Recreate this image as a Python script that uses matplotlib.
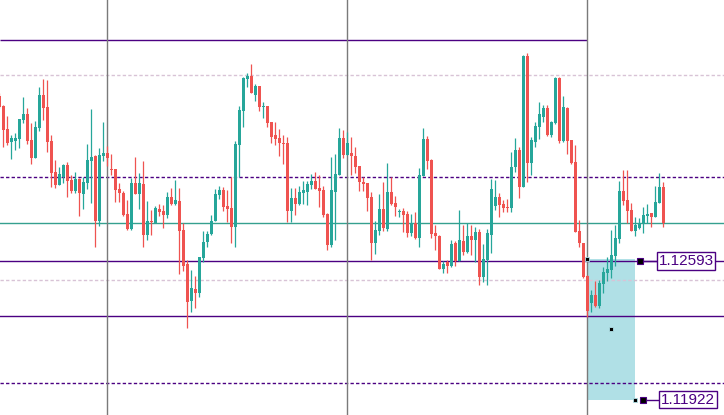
import matplotlib.pyplot as plt
from matplotlib.patches import Rectangle
import numpy as np

# OHLC, one candle per bar
opens = [1.13394, 1.13346, 1.13234, 1.13171, 1.13176, 1.13186, 1.13278, 1.13307, 1.13181, 1.13094,
         1.13239, 1.13399, 1.13341, 1.13176, 1.13026, 1.12963, 1.13002, 1.13060, 1.12987, 1.12934,
         1.12992, 1.12919, 1.12972, 1.13079, 1.13103, 1.12788, 1.13103, 1.13118, 1.13040, 1.13040,
         1.12943, 1.12924, 1.12822, 1.12749, 1.12972, 1.12919, 1.12968, 1.12720, 1.12788, 1.12778,
         1.12846, 1.12837, 1.12817, 1.12905, 1.12871, 1.12885, 1.12744, 1.12580, 1.12400, 1.12458,
         1.12439, 1.12609, 1.12686, 1.12725, 1.12788, 1.12914, 1.12938, 1.12861, 1.12851, 1.12759,
         1.13157, 1.13322, 1.13477, 1.13491, 1.13399, 1.13443, 1.13341, 1.13346, 1.13268, 1.13205,
         1.13191, 1.13166, 1.13166, 1.12837, 1.12900, 1.12871, 1.12924, 1.12929, 1.12963, 1.12982,
         1.12948, 1.12938, 1.12822, 1.12672, 1.12929, 1.13011, 1.13191, 1.13108, 1.13118, 1.13103,
         1.13055, 1.12977, 1.12972, 1.12905, 1.12681, 1.12740, 1.12846, 1.12749, 1.12929, 1.12875,
         1.12832, 1.12837, 1.12822, 1.12730, 1.12778, 1.12706, 1.13006, 1.13186, 1.13084, 1.12730,
         1.12715, 1.12555, 1.12589, 1.12570, 1.12681, 1.12594, 1.12691, 1.12638, 1.12715, 1.12696,
         1.12735, 1.12517, 1.12599, 1.12720, 1.12861, 1.12905, 1.12871, 1.12856, 1.12851, 1.13050,
         1.13132, 1.12953, 1.13588, 1.13069, 1.13171, 1.13244, 1.13293, 1.13336, 1.13205, 1.13263,
         1.13482, 1.13176, 1.13336, 1.13181, 1.13074, 1.12740, 1.12681, 1.12521, 1.12390, 1.12429,
         1.12376, 1.12483, 1.12536, 1.12550, 1.12618, 1.12701, 1.12934, 1.12890, 1.12841, 1.12740,
         1.12754, 1.12778, 1.12812, 1.12827, 1.12808, 1.12875, 1.12953]
highs = [1.13409, 1.13351, 1.13297, 1.13205, 1.13215, 1.13283, 1.13390, 1.13336, 1.13263, 1.13273,
         1.13438, 1.13477, 1.13472, 1.13205, 1.13084, 1.13050, 1.13065, 1.13074, 1.13011, 1.13026,
         1.12997, 1.13002, 1.13162, 1.13331, 1.13108, 1.13142, 1.13268, 1.13152, 1.13113, 1.13040,
         1.12972, 1.12934, 1.12890, 1.12997, 1.13099, 1.13021, 1.13079, 1.12885, 1.12841, 1.12861,
         1.12871, 1.12866, 1.12929, 1.12948, 1.12987, 1.12948, 1.12778, 1.12599, 1.12550, 1.12521,
         1.12614, 1.12740, 1.12740, 1.12817, 1.12943, 1.12958, 1.12953, 1.12938, 1.13002, 1.13176,
         1.13346, 1.13487, 1.13506, 1.13550, 1.13453, 1.13443, 1.13365, 1.13346, 1.13268, 1.13268,
         1.13234, 1.13205, 1.13196, 1.12948, 1.12948, 1.12958, 1.12982, 1.12982, 1.13016, 1.13026,
         1.13011, 1.12958, 1.12827, 1.13099, 1.13113, 1.13239, 1.13230, 1.13220, 1.13196, 1.13147,
         1.13055, 1.13002, 1.12972, 1.12929, 1.12788, 1.12919, 1.12977, 1.13069, 1.13002, 1.12909,
         1.12846, 1.12851, 1.12837, 1.12822, 1.12832, 1.13045, 1.13239, 1.13200, 1.13089, 1.12769,
         1.12720, 1.12594, 1.12599, 1.12696, 1.12691, 1.12841, 1.12769, 1.12778, 1.12769, 1.12759,
         1.12749, 1.12677, 1.12749, 1.12992, 1.12987, 1.12924, 1.12890, 1.12895, 1.13123, 1.13191,
         1.13147, 1.13593, 1.13603, 1.13196, 1.13268, 1.13365, 1.13351, 1.13351, 1.13273, 1.13487,
         1.13487, 1.13394, 1.13341, 1.13181, 1.13157, 1.12793, 1.12681, 1.12526, 1.12453, 1.12497,
         1.12502, 1.12565, 1.12614, 1.12744, 1.12769, 1.12982, 1.13035, 1.13035, 1.12875, 1.12808,
         1.12803, 1.12856, 1.12871, 1.12827, 1.12958, 1.13021, 1.12977]
lows = [1.13336, 1.13147, 1.13157, 1.13089, 1.13132, 1.13142, 1.13263, 1.13162, 1.13065, 1.13094,
        1.13225, 1.13278, 1.13123, 1.12953, 1.12948, 1.12963, 1.12972, 1.12905, 1.12924, 1.12924,
        1.12812, 1.12846, 1.12943, 1.12875, 1.12662, 1.12764, 1.13079, 1.13055, 1.13011, 1.12880,
        1.12880, 1.12812, 1.12744, 1.12744, 1.12919, 1.12846, 1.12662, 1.12696, 1.12720, 1.12778,
        1.12812, 1.12754, 1.12803, 1.12866, 1.12866, 1.12531, 1.12546, 1.12269, 1.12347, 1.12366,
        1.12420, 1.12589, 1.12662, 1.12720, 1.12788, 1.12895, 1.12837, 1.12783, 1.12681, 1.12662,
        1.13002, 1.13244, 1.13438, 1.13409, 1.13370, 1.13322, 1.13288, 1.13244, 1.13166, 1.13157,
        1.13103, 1.13065, 1.12783, 1.12783, 1.12817, 1.12866, 1.12871, 1.12866, 1.12943, 1.12943,
        1.12856, 1.12808, 1.12647, 1.12662, 1.12696, 1.13011, 1.13094, 1.13108, 1.13011, 1.13021,
        1.12934, 1.12934, 1.12837, 1.12599, 1.12628, 1.12720, 1.12740, 1.12740, 1.12866, 1.12812,
        1.12808, 1.12735, 1.12711, 1.12715, 1.12701, 1.12662, 1.13006, 1.13040, 1.12706, 1.12647,
        1.12555, 1.12536, 1.12536, 1.12565, 1.12570, 1.12594, 1.12623, 1.12633, 1.12623, 1.12589,
        1.12478, 1.12492, 1.12478, 1.12633, 1.12841, 1.12808, 1.12832, 1.12832, 1.12832, 1.13026,
        1.12900, 1.12953, 1.12977, 1.13011, 1.13147, 1.13186, 1.13268, 1.13200, 1.13196, 1.13259,
        1.13166, 1.13171, 1.13113, 1.13065, 1.12735, 1.12662, 1.12512, 1.12323, 1.12347, 1.12371,
        1.12366, 1.12439, 1.12497, 1.12512, 1.12570, 1.12681, 1.12866, 1.12778, 1.12740, 1.12715,
        1.12749, 1.12730, 1.12778, 1.12759, 1.12808, 1.12875, 1.12759]
closes = [1.13341, 1.13230, 1.13166, 1.13191, 1.13191, 1.13283, 1.13307, 1.13176, 1.13094, 1.13244,
          1.13399, 1.13336, 1.13171, 1.13021, 1.12963, 1.13016, 1.13060, 1.12982, 1.12934, 1.12992,
          1.12924, 1.12977, 1.13084, 1.13099, 1.12788, 1.13108, 1.13118, 1.13094, 1.13035, 1.12938,
          1.12924, 1.12817, 1.12749, 1.12972, 1.12919, 1.12972, 1.12720, 1.12788, 1.12783, 1.12851,
          1.12832, 1.12817, 1.12905, 1.12871, 1.12890, 1.12740, 1.12570, 1.12395, 1.12463, 1.12439,
          1.12614, 1.12686, 1.12725, 1.12788, 1.12919, 1.12938, 1.12856, 1.12846, 1.12759, 1.13162,
          1.13327, 1.13482, 1.13491, 1.13409, 1.13443, 1.13341, 1.13346, 1.13263, 1.13196, 1.13186,
          1.13166, 1.13162, 1.12837, 1.12900, 1.12871, 1.12929, 1.12938, 1.12968, 1.12982, 1.12943,
          1.12934, 1.12817, 1.12672, 1.12938, 1.13016, 1.13191, 1.13108, 1.13166, 1.13103, 1.13050,
          1.12977, 1.12968, 1.12900, 1.12681, 1.12744, 1.12846, 1.12754, 1.12929, 1.12871, 1.12856,
          1.12837, 1.12817, 1.12730, 1.12778, 1.12706, 1.13011, 1.13186, 1.13079, 1.12725, 1.12715,
          1.12555, 1.12580, 1.12570, 1.12677, 1.12594, 1.12696, 1.12638, 1.12715, 1.12696, 1.12735,
          1.12517, 1.12604, 1.12730, 1.12943, 1.12905, 1.12866, 1.12851, 1.12851, 1.13050, 1.13132,
          1.12953, 1.13588, 1.13069, 1.13181, 1.13249, 1.13307, 1.13336, 1.13205, 1.13268, 1.13482,
          1.13176, 1.13341, 1.13176, 1.13069, 1.12735, 1.12681, 1.12517, 1.12352, 1.12429, 1.12376,
          1.12487, 1.12541, 1.12555, 1.12623, 1.12706, 1.12934, 1.12885, 1.12837, 1.12740, 1.12769,
          1.12778, 1.12817, 1.12822, 1.12808, 1.12880, 1.12953, 1.12778]

# drawn objects on the chart
top_line = 1.13666          # trend line ending at the last separator
solid_levels = [1.12593, 1.12327]
dark_dashed_levels = [1.13002, 1.12002]
light_dashed_levels = [1.13496, 1.12502]
teal_level = 1.12778
separators = [27, 87, 147]
box_top, box_bottom = 1.12604, 1.11922
box_start, box_end = 147, 159
price_labels = [1.12593, 1.11922]

up_color = '#26a69a'
down_color = '#ef5350'
purple = '#4b0082'

o = np.array(opens)
h = np.array(highs)
l = np.array(lows)
c = np.array(closes)
idx = np.arange(len(o))

fig = plt.figure(figsize=(7.24, 4.15), dpi=100)
ax = fig.add_axes([0, 0, 1, 1])
ax.set_xlim(0.175, 181.175)
ax.set_ylim(1.1184725, 1.13860)
ax.axis('off')

# rectangle object
ax.add_patch(Rectangle((box_start, box_bottom), box_end - box_start, box_top - box_bottom,
                       fc='#b0e0e6', ec='none', zorder=1))

# horizontal levels
for y in solid_levels:
    ax.axhline(y, color=purple, lw=1, zorder=2)
for y in dark_dashed_levels:
    ax.axhline(y, color=purple, lw=1, ls=(0, (2.4, 1.6)), zorder=2)
for y in light_dashed_levels:
    ax.axhline(y, color='#d8c3d6', lw=1, ls=(0, (2.4, 1.6)), zorder=2)
ax.axhline(teal_level, color='#35a08f', lw=1, zorder=2)
ax.hlines(top_line, 0.175, separators[-1], color=purple, lw=1, zorder=2)

# period separators
for x in separators:
    ax.axvline(x, color='#7a7a7a', lw=1, zorder=2)

# candles
up = c >= o
colors = np.where(up, up_color, down_color)
ax.vlines(idx, l, h, colors=colors, lw=0.9, zorder=3)
body_bottom = np.minimum(o, c)
body_h = np.maximum(np.abs(c - o), 0.00005)
ax.bar(idx, body_h, bottom=body_bottom, width=0.75, color=colors, lw=0, zorder=4)

# rectangle anchor points
mid = (box_top + box_bottom) / 2
ax.plot([box_start, (box_start + box_end) / 2, box_end], [box_top, mid, box_bottom], 's',
        ms=2.6, mfc='black', mec='#b0e0e6', mew=0.6, ls='none', zorder=6)

# price labels on the right
for p, sq_x, box_x in zip(price_labels, [160.2, 161.0], [164.4, 165.0]):
    ax.plot([sq_x, box_x], [p, p], color=purple, lw=1, zorder=5)
    ax.plot(sq_x, p, 's', ms=4.6, mfc='black', mec=purple, mew=0.8, zorder=6)
    ax.text(box_x + 0.4, p, f'{p:.5f}', ha='left', va='center', fontsize=11,
            family='Liberation Sans', color=purple, zorder=6,
            bbox=dict(boxstyle='square,pad=0.12', fc='white', ec=purple, lw=1))

fig.savefig('out.png', dpi=100, facecolor='white')
